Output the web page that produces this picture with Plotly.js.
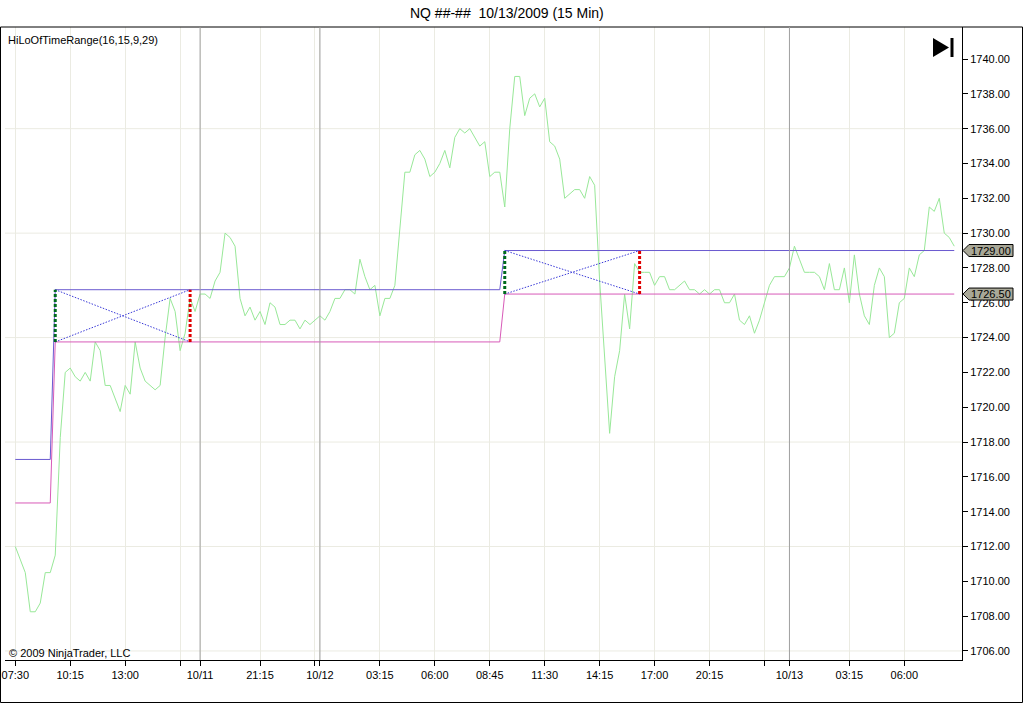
<!DOCTYPE html>
<html>
<head>
<meta charset="utf-8">
<script src="https://cdn.plot.ly/plotly-3.0.1.min.js"></script>
<style>
  html, body { margin: 0; padding: 0; background: #fff; }
  #chart { width: 1024px; height: 704px; }
</style>
</head>
<body>
<div id="chart"></div>
<script>
/* NQ 15 min chart with HiLoOfTimeRange overlay, NinjaTrader look. */

// Closing price per 15-minute bar (bar 0 = 07:30 on 10/9).
const closes = [
  1712.0, 1711.25, 1710.5, 1708.25, 1708.25, 1708.75, 1710.5, 1710.5, 1711.5, 1718.25,
  1722.0, 1722.25, 1721.75, 1721.5, 1722.0, 1721.5, 1723.75, 1723.25, 1721.25, 1721.25,
  1720.5, 1719.75, 1721.25, 1720.75, 1723.75, 1722.25, 1721.5, 1721.25, 1721.0, 1721.25,
  1724.0, 1726.25, 1725.5, 1723.25, 1724.25, 1726.25, 1725.5, 1726.5, 1726.5, 1726.25,
  1727.25, 1727.75, 1730.0, 1729.75, 1729.25, 1726.25, 1725.25, 1725.75, 1725.0, 1725.5,
  1724.75, 1726.0, 1725.75, 1724.75, 1724.75, 1725.0, 1725.0, 1724.5, 1725.0, 1724.75,
  1725.0, 1725.25, 1725.0, 1725.5, 1726.25, 1726.25, 1726.75, 1726.75, 1726.5, 1728.5,
  1727.5, 1726.75, 1727.0, 1725.25, 1726.25, 1726.25, 1727.0, 1730.25, 1733.5, 1733.5,
  1734.5, 1734.75, 1734.25, 1733.25, 1733.5, 1734.0, 1734.75, 1733.75, 1735.5, 1736.0,
  1735.75, 1736.0, 1735.5, 1735.0, 1735.25, 1733.25, 1733.5, 1733.5, 1731.5, 1736.0,
  1739.0, 1739.0, 1736.75, 1737.75, 1738.0, 1737.25, 1737.75, 1735.25, 1735.0, 1734.25,
  1732.0, 1732.25, 1732.5, 1732.5, 1732.0, 1733.25, 1732.75, 1727.25, 1723.0, 1718.5,
  1721.75, 1723.25, 1726.5, 1724.5, 1728.25, 1727.75, 1727.75, 1727.75, 1727.0, 1727.5,
  1727.5, 1726.75, 1726.75, 1727.0, 1727.25, 1726.75, 1726.75, 1726.5, 1726.75, 1726.5,
  1726.75, 1726.75, 1726.0, 1726.0, 1726.5, 1725.0, 1724.75, 1725.25, 1724.25, 1725.0,
  1726.0, 1727.0, 1727.5, 1727.5, 1727.5, 1728.0, 1729.25, 1728.5, 1727.75, 1727.75,
  1727.75, 1727.5, 1726.75, 1728.25, 1726.75, 1726.75, 1728.0, 1726.0, 1728.75, 1726.5,
  1725.25, 1724.75, 1727.0, 1728.0, 1727.5, 1724.0, 1724.25, 1726.0, 1726.25, 1728.0,
  1727.5, 1728.75, 1729.0, 1731.5, 1731.25, 1732.0, 1730.0, 1729.75, 1729.25
];

// Indicator plots: range high (blue) and range low (magenta), as bar index / price.
const hiX = [0, 7, 8, 97, 98, 188];
const hiY = [1717.0, 1717.0, 1726.75, 1726.75, 1729.0, 1729.0];
const loX = [0, 7, 8, 97, 98, 188];
const loY = [1714.5, 1714.5, 1723.75, 1723.75, 1726.5, 1726.5];

// The two 09:30-16:15 ranges.
const rangeStart = [8, 98];
const rangeEnd = [35, 125];
const rangeHigh = [1726.75, 1729.0];
const rangeLow = [1723.75, 1726.5];

// Time axis (bar index based, session gaps removed).
const tickIdx = [0, 11, 22, 33, 37, 49, 60, 61, 73, 84, 95, 106, 117, 128, 139, 150, 155, 167, 178];
const tickText = ["07:30", "10:15", "13:00", "", "10/11", "21:15", "", "10/12", "03:15", "06:00",
  "08:45", "11:30", "14:15", "17:00", "20:15", "", "10/13", "03:15", "06:00"];
const dayBreakIdx = [37, 61, 155];
const priceGrid = [1706, 1712, 1718, 1724, 1730, 1736];
const lastHigh = 1729.0;
const lastLow = 1726.5;

const X_RANGE = [-2.06, 189.55];
const Y_RANGE = [1705.48, 1741.84];
const FONT = "Liberation Sans, Arial, sans-serif";

// plot area in pixels: left 5, right 962, top 27, bottom 660
const px2x = (px) => (px - 5) / 957;
const py2y = (py) => (660 - py) / 633;
const unitsPerPx = (Y_RANGE[1] - Y_RANGE[0]) / 633;

const barIdx = closes.map((_, i) => i);

const traces = [
  {
    x: barIdx, y: closes, type: "scatter", mode: "lines",
    line: { color: "#98e898", width: 1 }, hoverinfo: "skip",
  },
  {
    x: hiX, y: hiY, type: "scatter", mode: "lines",
    line: { color: "#6a5ad0", width: 1 }, hoverinfo: "skip",
  },
  {
    x: loX, y: loY, type: "scatter", mode: "lines",
    line: { color: "#d85ab8", width: 1 }, hoverinfo: "skip",
  },
];

rangeStart.forEach((s, k) => {
  const e = rangeEnd[k];
  // the blue dotted cross inside each range box
  traces.push({
    x: [s, e], y: [rangeHigh[k], rangeLow[k]], type: "scatter", mode: "lines",
    line: { color: "#3a3ad8", width: 1, dash: "1.5px,1.5px" }, hoverinfo: "skip",
  });
  traces.push({
    x: [s, e], y: [rangeLow[k], rangeHigh[k]], type: "scatter", mode: "lines",
    line: { color: "#3a3ad8", width: 1, dash: "1.5px,1.5px" }, hoverinfo: "skip",
  });
  // start (green) and end (red) markers
  traces.push({
    x: [s, s], y: [rangeLow[k], rangeHigh[k]], type: "scatter", mode: "lines",
    line: { color: "#006a1e", width: 3, dash: "3px,2px" }, hoverinfo: "skip",
  });
  traces.push({
    x: [e, e], y: [rangeLow[k], rangeHigh[k]], type: "scatter", mode: "lines",
    line: { color: "#e00000", width: 3, dash: "3px,2px" }, hoverinfo: "skip",
  });
});

const shapes = [];
priceGrid.forEach((v) => shapes.push({
  type: "line", xref: "paper", yref: "y", x0: 0, x1: 1, y0: v, y1: v,
  line: { color: "#ebebe2", width: 1 }, layer: "below",
}));

// outer frame
shapes.push({
  type: "rect", xref: "paper", yref: "paper",
  x0: px2x(0.5), x1: px2x(1022.5), y0: py2y(702.5), y1: py2y(27),
  line: { color: "#000", width: 1 },
});
// "go to end" icon
shapes.push({
  type: "path", xref: "paper", yref: "paper",
  path: `M ${px2x(933)},${py2y(38)} L ${px2x(933)},${py2y(57)} L ${px2x(949)},${py2y(47.5)} Z`,
  fillcolor: "#000", line: { color: "#000", width: 0 },
});
shapes.push({
  type: "rect", xref: "paper", yref: "paper",
  x0: px2x(950.5), x1: px2x(953.5), y0: py2y(57), y1: py2y(38),
  fillcolor: "#000", line: { color: "#000", width: 0 },
});

// session separators, drawn as vertical day lines
dayBreakIdx.forEach((i) => shapes.push({
  type: "line", xref: "x", yref: "paper", x0: i, x1: i, y0: 0, y1: 1,
  line: { color: "#a0a0a0", width: 1 }, layer: "above",
}));

const annotations = [
  {
    text: "HiLoOfTimeRange(16,15,9,29)", xref: "paper", yref: "paper",
    x: px2x(6), y: py2y(40), xanchor: "left", yanchor: "middle", showarrow: false,
    font: { family: FONT, size: 11, color: "#000" },
  },
  {
    text: "© 2009 NinjaTrader, LLC", xref: "paper", yref: "paper",
    x: px2x(7), y: py2y(653), xanchor: "left", yanchor: "middle", showarrow: false,
    font: { family: FONT, size: 11, color: "#000" },
  },
];

// last-value markers on the price axis
[lastHigh, lastLow].forEach((v) => {
  const h = 6 * unitsPerPx;
  shapes.push({
    type: "path", xref: "paper", yref: "y",
    path: `M ${px2x(963)},${v} L ${px2x(969)},${v + h} L ${px2x(1013)},${v + h} ` +
          `L ${px2x(1013)},${v - h} L ${px2x(969)},${v - h} Z`,
    fillcolor: "#a9a898", line: { color: "#000", width: 1 },
  });
  annotations.push({
    text: v.toFixed(2), xref: "paper", yref: "y", x: px2x(991), y: v,
    xanchor: "center", yanchor: "middle", showarrow: false,
    font: { family: FONT, size: 11, color: "#000" },
  });
});

const layout = {
  width: 1024,
  height: 704,
  margin: { l: 5, r: 62, t: 27, b: 44 },
  paper_bgcolor: "#fff",
  plot_bgcolor: "#fff",
  font: { family: FONT, size: 11, color: "#000" },
  showlegend: false,
  hovermode: false,
  title: {
    text: "NQ ##-##\u00a0\u00a010/13/2009 (15 Min)",
    xref: "container", yref: "container", x: 0.495, y: 1 - 13 / 704,
    xanchor: "center", yanchor: "middle",
    font: { family: FONT, size: 14, color: "#000" },
  },
  xaxis: {
    range: X_RANGE,
    tickmode: "array", tickvals: tickIdx, ticktext: tickText,
    ticks: "outside", ticklen: 5, tickcolor: "#000",
    showline: true, linecolor: "#000", linewidth: 1,
    showgrid: true, gridcolor: "#ebebe2", zeroline: false,
    tickfont: { family: FONT, size: 11, color: "#000" },
  },
  yaxis: {
    range: Y_RANGE, side: "right",
    tick0: 1706, dtick: 2, tickformat: ".2f",
    ticks: "outside", ticklen: 5, tickcolor: "#000",
    showline: true, linecolor: "#000", linewidth: 1,
    showgrid: false, zeroline: false,
    tickfont: { family: FONT, size: 11, color: "#000" },
  },
  shapes,
  annotations,
};

Plotly.newPlot("chart", traces, layout, { displayModeBar: false, staticPlot: true });
</script>
</body>
</html>
